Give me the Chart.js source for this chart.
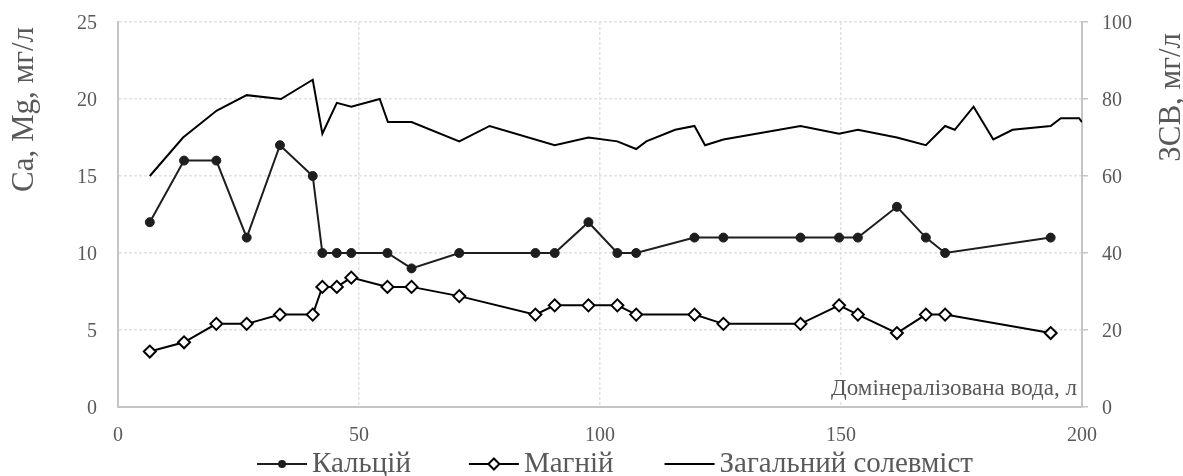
<!DOCTYPE html>
<html>
<head>
<meta charset="utf-8">
<script src="https://cdn.jsdelivr.net/npm/chart.js@4.4.1/dist/chart.umd.min.js"></script>
<style>
  html, body { margin: 0; padding: 0; background: #fff; }
  #wrap { width: 1183px; height: 476px; position: relative; }
</style>
</head>
<body>
<div id="wrap"><canvas id="chart" width="1183" height="476"></canvas></div>
<script>
// Volume of demineralised water passed, l (sampling points for Ca and Mg)
const waterVolume = [6.6, 13.7, 20.4, 26.7, 33.6, 40.4, 42.4, 45.4, 48.4, 55.9, 60.9, 70.8, 86.6, 90.6,
                     97.6, 103.6, 107.5, 119.6, 125.6, 141.6, 149.6, 153.5, 161.6, 167.6, 171.6, 193.5];
// Calcium, mg/l
const calcium = [12, 16, 16, 11, 17, 15, 10, 10, 10, 10, 9, 10, 10, 10,
                 12, 10, 10, 11, 11, 11, 11, 11, 13, 11, 10, 11];
// Magnesium, mg/l
const magnesium = [3.6, 4.2, 5.4, 5.4, 6.0, 6.0, 7.8, 7.8, 8.4, 7.8, 7.8, 7.2, 6.0, 6.6,
                   6.6, 6.6, 6.0, 6.0, 5.4, 5.4, 6.6, 6.0, 4.8, 6.0, 6.0, 4.8];
// Total dissolved solids: volume, l and value, mg/l
const tdsVolume = [6.6, 13.5, 20.5, 26.7, 33.8, 40.4, 42.4, 45.4, 48.4, 54.3, 56.0, 60.9, 70.8, 77.1,
                   90.6, 97.6, 103.6, 107.5, 109.6, 115.6, 119.6, 121.8, 125.6, 141.6, 149.6, 153.5,
                   161.6, 167.6, 171.6, 173.6, 177.5, 181.6, 185.6, 193.5, 195.6, 199.4, 200];
const tds = [60, 70, 77, 81, 80, 85, 71, 79, 78, 80, 74, 74, 69, 73,
             68, 70, 69, 67, 69, 72, 73, 68, 69.5, 73, 71, 72,
             70, 68, 73, 72, 78, 69.5, 72, 73, 75, 75, 74];

const seriesNames = ['Кальцій', 'Магній', 'Загальний солевміст'];
const leftAxisTitle = 'Ca, Mg, мг/л';
const rightAxisTitle = 'ЗСВ, мг/л';
const xAxisTitle = 'Домінералізована вода, л';

const FONT = '"Liberation Serif", "Times New Roman", serif';
const TEXT = '#595959';
const AXIS = '#c4c4c4';
const GRID = '#e2e2e2';

const toPoints = (xs, ys) => xs.map((x, i) => ({ x, y: ys[i] }));

// Axis titles and the in-plot x-axis caption
const titlesPlugin = {
  id: 'axisTitles',
  beforeDatasetsDraw(chart) {
    const { ctx, chartArea } = chart;
    ctx.save();
    ctx.font = '23px ' + FONT;
    const w = ctx.measureText(xAxisTitle).width;
    const right = chartArea.right - 5;
    const cy = chartArea.bottom - 18;
    ctx.fillStyle = '#ffffff';
    ctx.fillRect(right - w - 6, cy - 12, w + 10, 24);
    ctx.fillStyle = TEXT;
    ctx.textAlign = 'right';
    ctx.textBaseline = 'middle';
    ctx.fillText(xAxisTitle, right, cy);
    ctx.restore();
  },
  afterDraw(chart) {
    const { ctx } = chart;
    const drawVertical = (text, x, y) => {
      ctx.save();
      ctx.fillStyle = TEXT;
      ctx.font = '31px ' + FONT;
      ctx.textBaseline = 'alphabetic';
      ctx.textAlign = 'right';
      ctx.translate(x, y);
      ctx.rotate(-Math.PI / 2);
      ctx.fillText(text, 0, 0);
      ctx.restore();
    };
    drawVertical(leftAxisTitle, 33, 27);
    drawVertical(rightAxisTitle, 1180, 33);
  }
};

// Legend below the plot: line sample with marker, then the series name
const legendPlugin = {
  id: 'seriesLegend',
  afterDraw(chart) {
    const { ctx } = chart;
    const lineLen = 50, textGap = 5, gaps = [58, 51], cx = 615, cy = 464;
    ctx.save();
    ctx.font = '29px ' + FONT;
    const items = chart.data.datasets.map(ds => ({ ds, w: ctx.measureText(ds.label).width }));
    const total = items.reduce((s, it) => s + lineLen + textGap + it.w, 0) + gaps.reduce((a, b) => a + b, 0);
    let x = cx - total / 2;
    items.forEach(({ ds, w }, i) => {
      ctx.strokeStyle = ds.borderColor;
      ctx.lineWidth = 2;
      ctx.beginPath();
      ctx.moveTo(x, cy);
      ctx.lineTo(x + lineLen, cy);
      ctx.stroke();
      const mx = x + lineLen / 2;
      if (ds.pointStyle === 'circle' && ds.pointRadius > 0) {
        ctx.fillStyle = ds.pointBackgroundColor;
        ctx.beginPath();
        ctx.arc(mx, cy, 4, 0, Math.PI * 2);
        ctx.fill();
      } else if (ds.pointStyle === 'rectRot') {
        const r = 5.5;
        ctx.fillStyle = ds.pointBackgroundColor;
        ctx.strokeStyle = ds.pointBorderColor;
        ctx.lineWidth = 2;
        ctx.beginPath();
        ctx.moveTo(mx, cy - r);
        ctx.lineTo(mx + r, cy);
        ctx.lineTo(mx, cy + r);
        ctx.lineTo(mx - r, cy);
        ctx.closePath();
        ctx.fill();
        ctx.stroke();
      }
      ctx.fillStyle = TEXT;
      ctx.textAlign = 'left';
      ctx.textBaseline = 'middle';
      ctx.fillText(ds.label, x + lineLen + textGap, cy);
      x += lineLen + textGap + w + (gaps[i] || 0);
    });
    ctx.restore();
  }
};

const tickFont = { family: FONT, size: 20 };

// Vertical axes: fixed widths, no extra top/bottom inset from tick labels
const fitVertical = width => s => {
  s.width = width;
  s.paddingTop = 0;
  s.paddingBottom = 0;
};

new Chart(document.getElementById('chart'), {
  type: 'line',
  data: {
    datasets: [
      {
        label: seriesNames[0],
        data: toPoints(waterVolume, calcium),
        yAxisID: 'y',
        borderColor: '#1e1e1e',
        borderWidth: 2,
        pointStyle: 'circle',
        pointRadius: 4.5,
        pointBackgroundColor: '#1e1e1e',
        pointBorderColor: '#1e1e1e',
        pointBorderWidth: 1,
        tension: 0
      },
      {
        label: seriesNames[1],
        data: toPoints(waterVolume, magnesium),
        yAxisID: 'y',
        borderColor: '#000000',
        borderWidth: 2,
        pointStyle: 'rectRot',
        pointRadius: 6,
        pointBackgroundColor: '#ffffff',
        pointBorderColor: '#000000',
        pointBorderWidth: 2,
        tension: 0
      },
      {
        label: seriesNames[2],
        data: toPoints(tdsVolume, tds),
        yAxisID: 'y1',
        borderColor: '#000000',
        borderWidth: 2,
        pointStyle: false,
        pointRadius: 0,
        tension: 0
      }
    ]
  },
  options: {
    responsive: false,
    animation: false,
    devicePixelRatio: 1,
    layout: { padding: { top: 22, left: 0, right: 0, bottom: 0 } },
    plugins: { legend: { display: false }, tooltip: { enabled: false } },
    scales: {
      x: {
        type: 'linear',
        min: 0, max: 200,
        ticks: { stepSize: 50, font: tickFont, color: TEXT, padding: 17, maxRotation: 0 },
        grid: { color: GRID, lineWidth: 1.5, drawTicks: false },
        border: { color: AXIS, width: 2, dash: [3, 2] },
        afterFit(s) { s.height = 69; }
      },
      y: {
        position: 'left',
        min: 0, max: 25,
        ticks: { stepSize: 5, font: tickFont, color: TEXT, padding: 21, labelOffset: 2 },
        grid: { color: GRID, lineWidth: 1.5, drawTicks: false },
        border: { color: AXIS, width: 2, dash: [3, 2] },
        afterFit: fitVertical(118)
      },
      y1: {
        position: 'right',
        min: 0, max: 100,
        ticks: { stepSize: 20, font: tickFont, color: TEXT, padding: 14, labelOffset: 2 },
        grid: { drawOnChartArea: false, color: AXIS, lineWidth: 1.5, tickLength: 6 },
        border: { color: AXIS, width: 2 },
        afterFit: fitVertical(101)
      }
    }
  },
  plugins: [titlesPlugin, legendPlugin]
});
</script>
</body>
</html>
